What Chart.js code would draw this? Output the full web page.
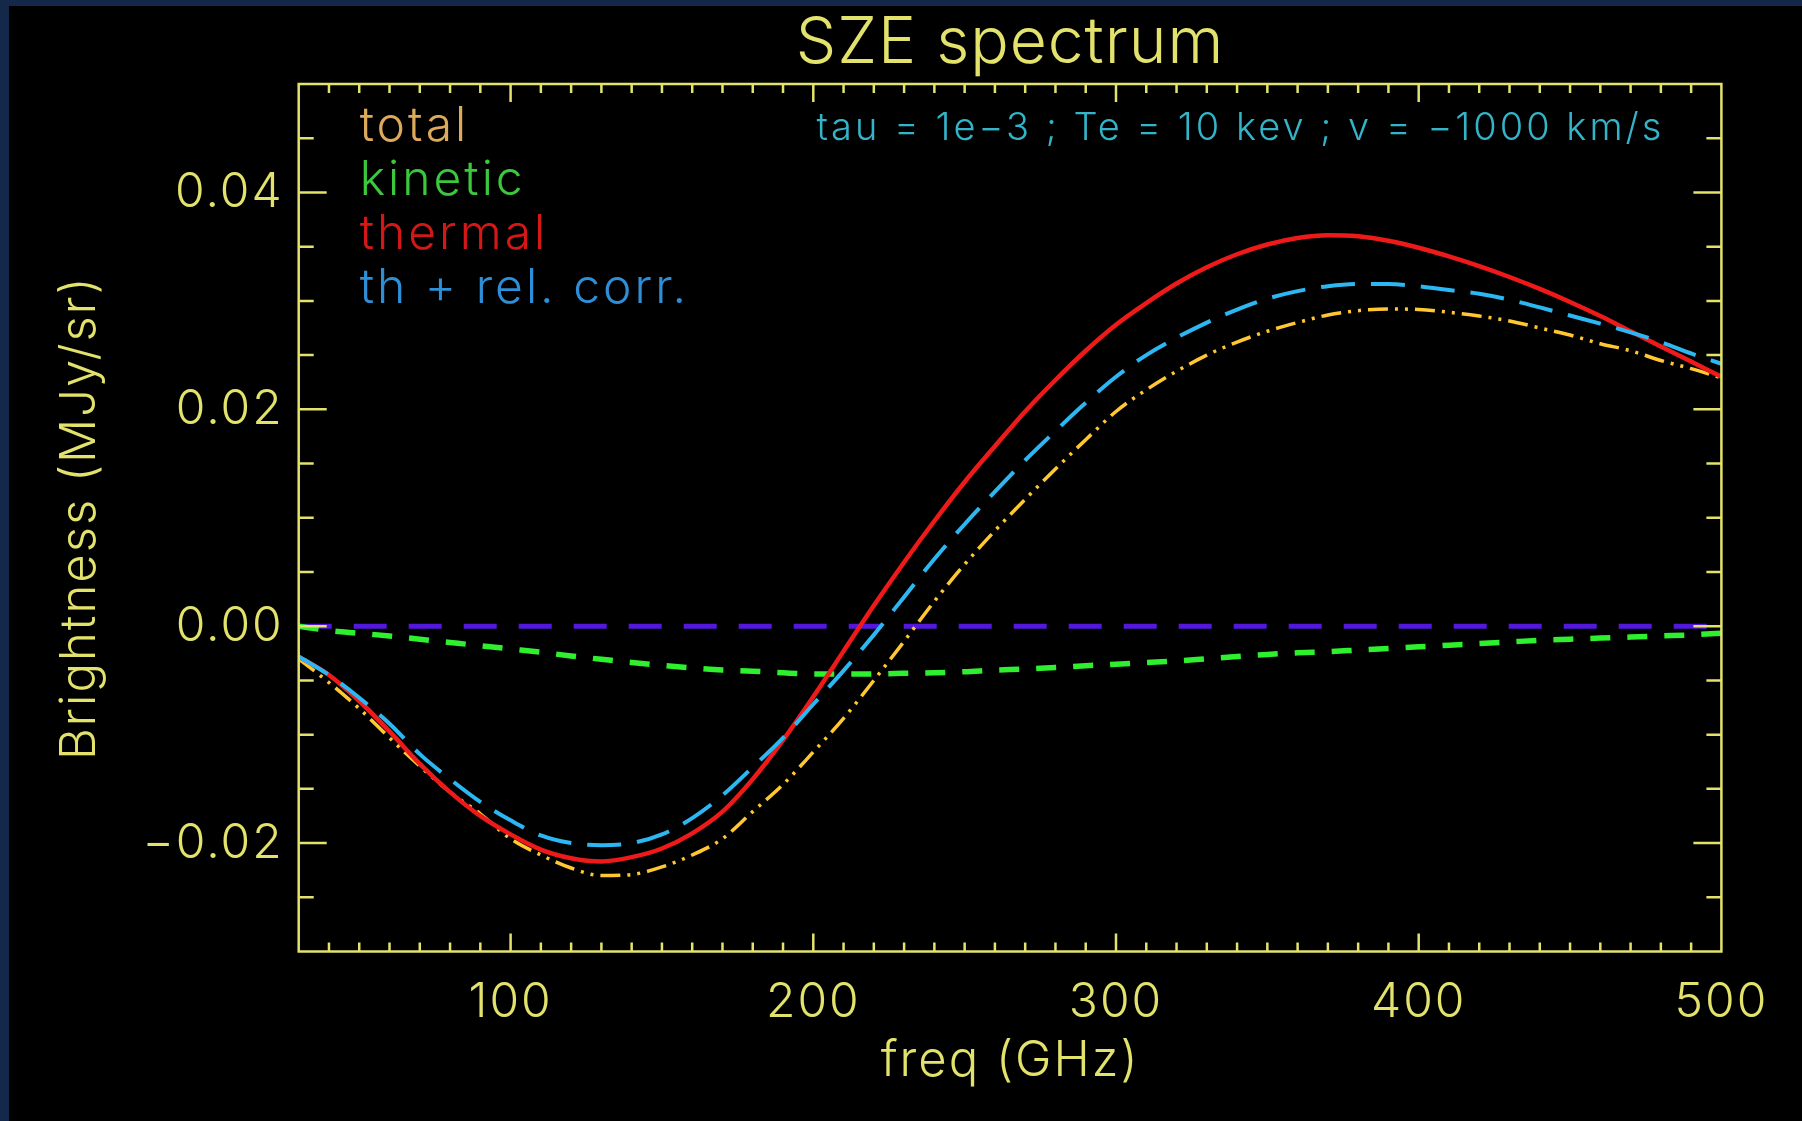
<!DOCTYPE html>
<html>
<head>
<meta charset="utf-8">
<title>SZE spectrum</title>
<script src="https://cdn.jsdelivr.net/npm/chart.js@4.4.1/dist/chart.umd.min.js"></script>
<style>
  html, body { margin: 0; padding: 0; background: #14284a; overflow: hidden; }
  #wrap { position: absolute; left: 9px; top: 6px; width: 1793px; height: 1115px; background: #000; }
</style>
</head>
<body>
<div id="wrap"><canvas id="szeChart"></canvas></div>
<script>
// frequency grid (GHz)
const freq = [30, 40, 50, 60, 70, 80, 90, 100, 110, 120, 130, 140, 150, 160, 170, 180, 190, 200,
  210, 220, 230, 240, 250, 260, 270, 280, 290, 300, 310, 320, 330, 340, 350, 360, 370, 380,
  390, 400, 410, 420, 430, 440, 450, 460, 470, 480, 490, 500];

// brightness (MJy/sr)
const total = [-0.0030, -0.0052, -0.0076, -0.0103, -0.0129, -0.0153, -0.0173, -0.0196, -0.0211, -0.0223,
  -0.0230, -0.0229, -0.0222, -0.0211, -0.0196, -0.0171, -0.0146, -0.0116, -0.0085, -0.0050,
  -0.0014, 0.0023, 0.0057, 0.0088, 0.0117, 0.0145, 0.0172, 0.0198, 0.0218, 0.0235,
  0.0250, 0.0262, 0.0272, 0.0280, 0.0287, 0.0291, 0.02925, 0.0292, 0.02895, 0.0286,
  0.02815, 0.0275, 0.02685, 0.02605, 0.0254, 0.0245, 0.02375, 0.0229];
const kinetic = [0.0000, -0.0004, -0.00065, -0.0009, -0.0012, -0.0015, -0.0018, -0.0021, -0.0024, -0.00275,
  -0.00305, -0.00335, -0.0036, -0.00385, -0.00405, -0.00415, -0.0043, -0.0044, -0.0044, -0.0044,
  -0.00435, -0.0043, -0.0042, -0.00405, -0.00395, -0.0038, -0.00365, -0.0035, -0.00335, -0.0032,
  -0.0030, -0.0028, -0.0026, -0.00245, -0.00235, -0.0022, -0.00205, -0.0019, -0.00175, -0.0016,
  -0.00145, -0.0013, -0.0012, -0.0011, -0.0010, -0.0009, -0.0008, -0.00065];
const thermal = [-0.0028, -0.0045, -0.0069, -0.0097, -0.0127, -0.0153, -0.0175, -0.0192, -0.0206, -0.0214,
  -0.0217, -0.0213, -0.0205, -0.0191, -0.0171, -0.0141, -0.0105, -0.0065, -0.0023, 0.0019,
  0.0059, 0.0097, 0.0133, 0.0166, 0.0198, 0.0227, 0.0254, 0.0278, 0.0298, 0.0316,
  0.0331, 0.0343, 0.0352, 0.0358, 0.03605, 0.03595, 0.03555, 0.0349, 0.0341, 0.0332,
  0.0322, 0.0311, 0.0299, 0.0286, 0.0272, 0.0258, 0.0244, 0.0230];
const relCorr = [-0.0028, -0.0045, -0.0066, -0.0090, -0.0118, -0.0141, -0.0162, -0.0179, -0.0193, -0.0200,
  -0.0202, -0.0200, -0.0192, -0.0177, -0.0156, -0.0130, -0.0103, -0.0072, -0.0041, -0.0008,
  0.0027, 0.0062, 0.0094, 0.0124, 0.0153, 0.0180, 0.0206, 0.0230, 0.0250, 0.0266,
  0.0280, 0.0292, 0.0302, 0.0309, 0.03135, 0.03155, 0.03155, 0.03135, 0.0310, 0.03065,
  0.0301, 0.0294, 0.02865, 0.0279, 0.0271, 0.0262, 0.02515, 0.0242];
// zero reference line
const zeroFreq = [30, 500];
const zeroLine = [0, 0];

// axis ticks and labels
const xMajorTicks = [100, 200, 300, 400, 500];
const yMajorTicks = [-0.02, 0.00, 0.02, 0.04];
const yTickLabels = ['\u22120.02', '0.00', '0.02', '0.04'];

const chartTitle = 'SZE spectrum';
const legendLabels = ['total', 'kinetic', 'thermal', 'th + rel. corr.'];
const paramsText = 'tau = 1e\u22123 ; Te = 10 kev ; v = \u22121000 km/s';

const AXIS_COLOR = '#e2e26c';
const FONT = 'Inter';

function toPoints(xs, ys) {
  return xs.map((f, i) => ({ x: f, y: ys[i] }));
}

// wide character spacing for every label on the canvas
const wideText = {
  id: 'wideText',
  beforeDraw(chart) {
    chart.ctx.letterSpacing = '2px';
  }
};

// box frame with inward ticks on all four sides
const frameTicks = {
  id: 'frameTicks',
  afterDatasetsDraw(chart) {
    const { ctx, chartArea: a, scales: { x, y } } = chart;
    ctx.save();
    ctx.strokeStyle = AXIS_COLOR;
    ctx.lineWidth = 2.5;
    ctx.strokeRect(a.left, a.top, a.right - a.left, a.bottom - a.top);
    ctx.beginPath();
    for (let i = 4; i <= 49; i++) {
      const v = i * 10;
      const len = v % 100 === 0 ? 18 : 9;
      const px = x.getPixelForValue(v);
      ctx.moveTo(px, a.bottom); ctx.lineTo(px, a.bottom - len);
      ctx.moveTo(px, a.top); ctx.lineTo(px, a.top + len);
    }
    for (let k = -5; k <= 9; k++) {
      const v = k * 0.005;
      const len = k % 4 === 0 ? 28 : 15;
      const py = y.getPixelForValue(v);
      ctx.moveTo(a.left, py); ctx.lineTo(a.left + len, py);
      ctx.moveTo(a.right, py); ctx.lineTo(a.right - len, py);
    }
    ctx.stroke();
    ctx.restore();
  }
};

// title over the plot box, coloured legend words and parameter line inside it
const plotNotes = {
  id: 'plotNotes',
  afterDraw(chart) {
    const { ctx, chartArea: a } = chart;
    const colors = chart.options.plugins.plotNotes.colors;
    ctx.save();
    ctx.textBaseline = 'alphabetic';

    ctx.letterSpacing = '1px';
    ctx.textAlign = 'center';
    ctx.font = `300 64px ${FONT}`;
    ctx.fillStyle = AXIS_COLOR;
    ctx.fillText(chartTitle, (a.left + a.right) / 2, a.top - 21);

    ctx.letterSpacing = '3px';
    ctx.textAlign = 'left';
    ctx.font = `300 48px ${FONT}`;
    legendLabels.forEach((t, i) => {
      ctx.fillStyle = colors[i];
      ctx.fillText(t, a.left + 61, a.top + 57 + i * 54);
    });

    ctx.font = `300 38px ${FONT}`;
    ctx.fillStyle = '#33b4c8';
    ctx.textAlign = 'right';
    ctx.fillText(paramsText, a.right - 57, a.top + 56);
    ctx.restore();
  }
};

const ctx = document.getElementById('szeChart');

new Chart(ctx, {
  type: 'line',
  data: {
    datasets: [
      {
        label: 'th + rel. corr.',
        data: toPoints(freq, relCorr),
        borderColor: '#2cb6f2',
        borderWidth: 4,
        borderDash: [34, 16],
        order: 1
      },
      {
        label: 'thermal',
        data: toPoints(freq, thermal),
        borderColor: '#ee1a1a',
        borderWidth: 4.5,
        order: 2
      },
      {
        label: 'total',
        data: toPoints(freq, total),
        borderColor: '#ffc832',
        borderWidth: 3.5,
        borderDash: [20, 7, 3, 7, 3, 7],
        order: 3
      },
      {
        label: 'kinetic',
        data: toPoints(freq, kinetic),
        borderColor: '#2ef02e',
        borderWidth: 5.5,
        borderDash: [20, 17],
        order: 4
      },
      {
        label: 'zero',
        data: toPoints(zeroFreq, zeroLine),
        borderColor: '#5218dc',
        borderWidth: 5,
        borderDash: [33, 22],
        order: 5
      }
    ]
  },
  options: {
    responsive: true,
    maintainAspectRatio: false,
    animation: false,
    layout: { padding: { left: 0, right: 80.6, top: 78, bottom: 0 } },
    elements: {
      point: { radius: 0 },
      line: { cubicInterpolationMode: 'monotone', borderCapStyle: 'butt' }
    },
    scales: {
      x: {
        type: 'linear',
        min: 30,
        max: 500,
        grid: { display: false },
        border: { display: false },
        afterBuildTicks: (scale) => { scale.ticks = xMajorTicks.map(v => ({ value: v })); },
        afterFit: (scale) => { scale.height = 169.5; },
        ticks: {
          color: AXIS_COLOR,
          padding: 14,
          maxRotation: 0,
          font: { family: FONT, size: 48, weight: '300', lineHeight: 1.2 },
          callback: (v) => String(v)
        },
        title: {
          display: true,
          text: 'freq (GHz)',
          color: AXIS_COLOR,
          padding: { top: 0, bottom: 30 },
          font: { family: FONT, size: 49, weight: '300', lineHeight: 1.2 }
        }
      },
      y: {
        type: 'linear',
        min: -0.03,
        max: 0.05,
        grid: { display: false },
        border: { display: false },
        afterBuildTicks: (scale) => { scale.ticks = yMajorTicks.map(v => ({ value: v })); },
        afterFit: (scale) => { scale.width = 289.7; },
        ticks: {
          color: AXIS_COLOR,
          padding: 7,
          font: { family: FONT, size: 48, weight: '300', lineHeight: 1.2 },
          callback: (v) => {
            const i = yMajorTicks.findIndex(t => Math.abs(t - v) < 1e-9);
            return i >= 0 ? yTickLabels[i] : '';
          }
        },
        title: {
          display: true,
          text: 'Brightness (MJy/sr)',
          color: AXIS_COLOR,
          padding: { top: 42, bottom: 0 },
          font: { family: FONT, size: 49, weight: '300', lineHeight: 1.2 }
        }
      }
    },
    plugins: {
      legend: { display: false },
      tooltip: { enabled: false },
      title: { display: false },
      plotNotes: { colors: ['#dcaa5a', '#3cc83c', '#d41818', '#2e8ed6'] }
    }
  },
  plugins: [wideText, frameTicks, plotNotes]
});
</script>
</body>
</html>
